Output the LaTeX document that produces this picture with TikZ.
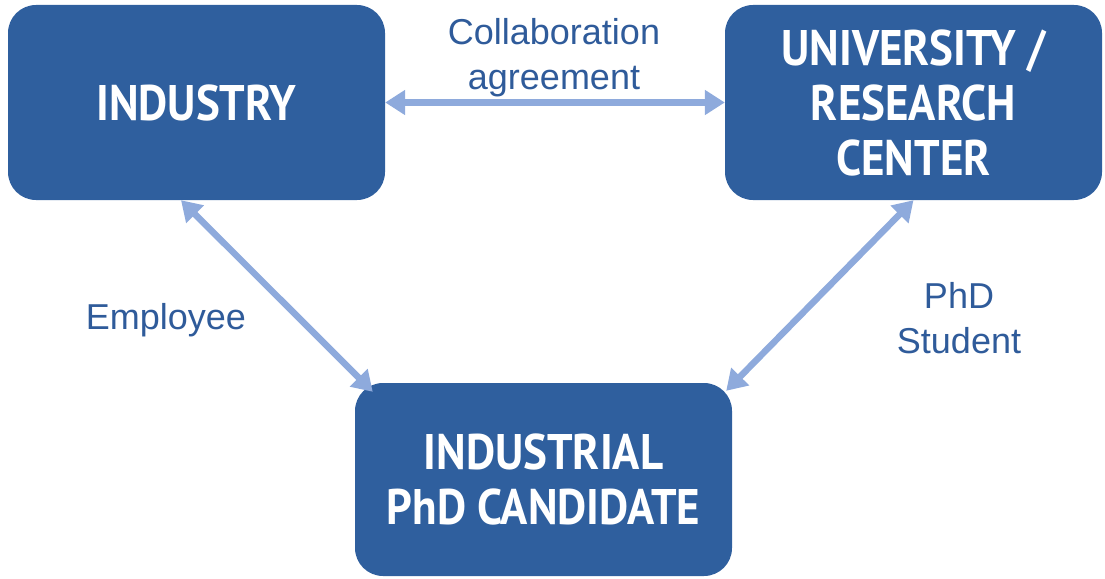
\documentclass[tikz,border=0pt]{standalone}
\usepackage{fontspec}
\setmainfont{Liberation Sans}
\newfontfamily\boxfont{PT Sans}[FakeStretch=0.9]
\usetikzlibrary{arrows.meta}
\definecolor{boxblue}{HTML}{2F5F9E}
\definecolor{arrowblue}{HTML}{8EAADC}
\definecolor{labelblue}{HTML}{2F5B9A}
\tikzset{
  entity/.style={draw=none, fill=boxblue, rounded corners=28pt, minimum width=377pt,
    text=white, align=center, font=\boxfont\bfseries\fontsize{50}{55}\selectfont, inner sep=0pt},
  link/.style={draw=arrowblue, line width=6.5pt, {Triangle[length=20pt,width=24pt]}-{Triangle[length=20pt,width=24pt]}, shorten <=0pt, shorten >=0pt},
  lbl/.style={text=labelblue, align=center, font=\fontsize{36}{45}\selectfont, inner sep=0pt}
}
\begin{document}
\begin{tikzpicture}[x=1pt,y=-1pt]
\useasboundingbox (0,0) rectangle (1105,578);
\node[entity, minimum height=195pt] (ind) at (196.5,102.5) {INDUSTRY};
\node[entity, minimum height=195pt] (uni) at (913.5,102.5) {UNIVERSITY /\\RESEARCH\\CENTER};
\node[entity, minimum height=193pt] (cand) at (543.5,479.5) {INDUSTRIAL\\PhD CANDIDATE};
\node[lbl] (collab) at (554,58) {Collaboration\\agreement};
\node[lbl] (emp) at (166,320) {Employee};
\node[lbl] (phd) at (959,318) {PhD\\Student};
\draw[link] (ind.east) -- (uni.west);
\draw[link] ([xshift=-15.5pt]ind.south) -- ([xshift=18pt,yshift=-9pt]cand.north west);
\draw[link] (uni.south) -- ([xshift=-6pt,yshift=-8pt]cand.north east);
\end{tikzpicture}
\end{document}
